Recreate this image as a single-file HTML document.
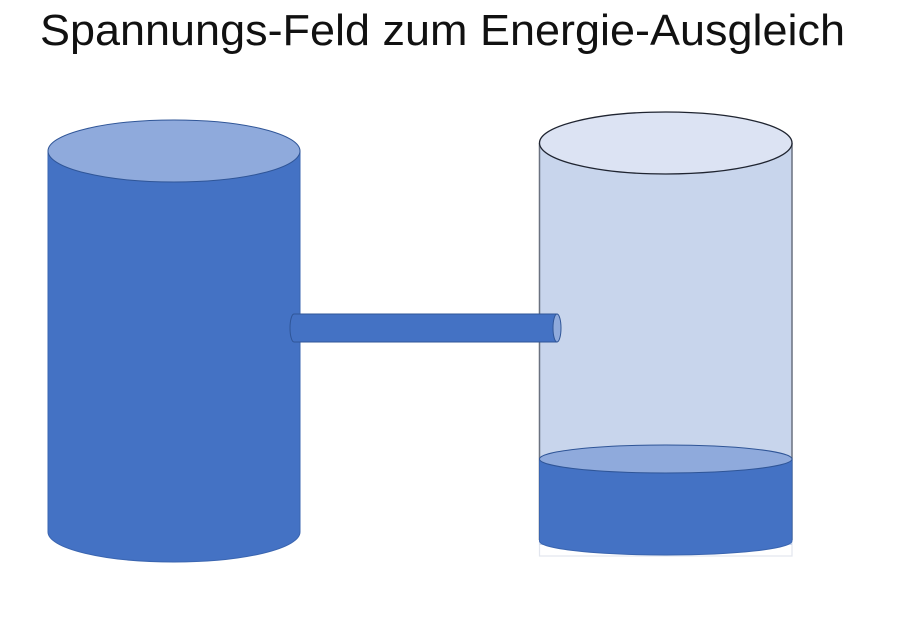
<!DOCTYPE html>
<html>
<head>
<meta charset="utf-8">
<style>
  html, body { margin: 0; padding: 0; background: #ffffff; }
  body { width: 900px; height: 622px; overflow: hidden; }
  svg { display: block; }
</style>
</head>
<body>
<svg width="900" height="622" viewBox="0 0 900 622" xmlns="http://www.w3.org/2000/svg">
  <rect x="0" y="0" width="900" height="622" fill="#ffffff"/>

  <!-- Title -->
  <text x="40" y="45" font-family="'Liberation Sans', 'DejaVu Sans', sans-serif" font-size="44" fill="#111111" textLength="805" lengthAdjust="spacingAndGlyphs">Spannungs-Feld zum Energie-Ausgleich</text>

  <!-- Left cylinder (full) -->
  <path d="M48,151 L48,532 A126,30 0 0 0 300,532 L300,151 Z" fill="#4472C4" stroke="#3A65B0" stroke-width="1"/>
  <ellipse cx="174" cy="151" rx="126" ry="31" fill="#8FAADC" stroke="#2F5597" stroke-width="1"/>

  <!-- Right cylinder (container, light) -->
  <rect x="539.5" y="143" width="252.5" height="413" fill="none" stroke="#E2E6EE" stroke-width="1.2"/>
  <path d="M539.5,143 L539.5,545 L792,545 L792,143 Z" fill="#C8D5EC"/>
  <line x1="539.5" y1="143" x2="539.5" y2="540" stroke="#6B7280" stroke-width="1.5"/>
  <line x1="792" y1="143" x2="792" y2="540" stroke="#6B7280" stroke-width="1.5"/>
  <ellipse cx="665.75" cy="143" rx="126.25" ry="31" fill="#DCE3F3" stroke="#1F2430" stroke-width="1.3"/>

  <!-- Water in right cylinder -->
  <path d="M539.5,459 L539.5,541 A126.25,14 0 0 0 792,541 L792,459 Z" fill="#4472C4" stroke="#3A65B0" stroke-width="1"/>
  <ellipse cx="665.75" cy="459" rx="126.25" ry="14" fill="#8FAADC" stroke="#2F5597" stroke-width="1"/>

  <!-- Pipe -->
  <path d="M294,314 L557,314 L557,342 L294,342 A4,14 0 0 1 294,314 Z" fill="#4472C4" stroke="#2F5597" stroke-width="1"/>
  <ellipse cx="557" cy="328" rx="4" ry="14" fill="#8FAADC" stroke="#2F5597" stroke-width="1"/>
</svg>
</body>
</html>
